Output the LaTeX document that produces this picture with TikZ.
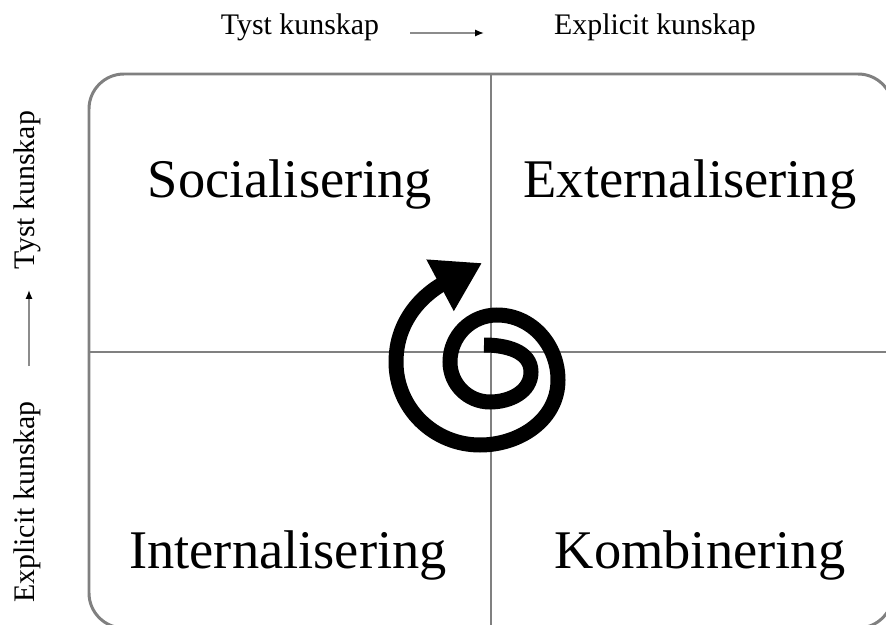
\documentclass[tikz,border=0pt]{standalone}
\usepackage{fontspec}
\setmainfont{Liberation Serif}
\usetikzlibrary{arrows.meta}

\begin{document}
\begin{tikzpicture}[x=0.02cm, y=-0.02cm,
    frame/.style={draw=black!50, line width=1.7pt, rounded corners=0.7cm},
    divider/.style={draw=black!50, line width=1.7pt},
    mode/.style={font=\fontsize{31}{36}\selectfont, anchor=base, inner sep=0pt},
    axis/.style={font=\fontsize{17}{20}\selectfont, inner sep=0pt},
    flow/.style={draw=black!45, line width=0.9pt, -{Latex[black, length=5pt, width=4pt]}},
    swirl/.style={draw=black, line width=0.3cm, -{Triangle[length=0.95cm, width=1.1cm]}}]
    \useasboundingbox (0,0) rectangle (886,625);
    \clip (0,0) rectangle (886,625);

    % the four quadrants
    \draw[frame] (89,74) rectangle (893,628);
    \draw[divider] (491,74) -- (491,628);
    \draw[divider] (89,352) -- (893,352);

    \node[mode] (soc) at (290,197) {Socialisering};
    \node[mode] (ext) at (690,197) {Externalisering};
    \node[mode] (int) at (288,568) {Internalisering};
    \node[mode] (komb) at (700,568) {Kombinering};

    % axis labels
    \node[axis] (tystTop) at (300,27) {Tyst kunskap};
    \node[axis] (explTop) at (655,27) {Explicit kunskap};
    \coordinate (topA) at (410,33);
    \coordinate (topB) at (484,33);
    \draw[flow] (topA) -- (topB);

    \node[axis, rotate=90] (tystLeft) at (27,190) {Tyst kunskap};
    \node[axis, rotate=90] (explLeft) at (27,502) {Explicit kunskap};
    \coordinate (leftA) at (29,366);
    \coordinate (leftB) at (29,290);
    \draw[flow] (leftA) -- (leftB);

    % knowledge spiral
    \coordinate (tail) at (484,345);
    \coordinate (tip) at (482,263);
    \draw[swirl] (tail) to[out=0, in=90] (531,372) to[out=-90, in=0] (490,402)
        to[out=180, in=-90] (450,362) to[out=90, in=180] (497,315)
        to[out=0, in=90] (558,380) to[out=-90, in=0] (480,445)
        to[out=180, in=-90] (396,362) to[out=90, in=208] (tip);
\end{tikzpicture}
\end{document}
